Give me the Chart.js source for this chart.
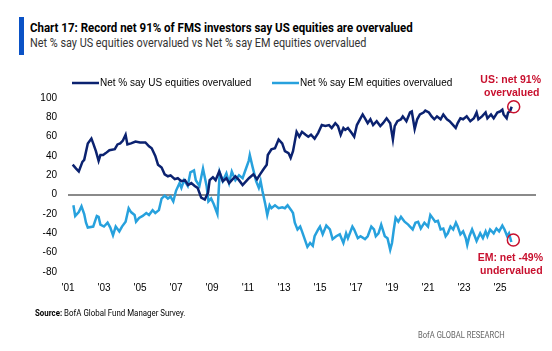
<!DOCTYPE html>
<html>
<head>
<meta charset="utf-8">
<script src="https://cdn.jsdelivr.net/npm/chart.js@4.4.1/dist/chart.umd.min.js"></script>
<style>
  body { margin: 0; background: #fff; width: 552px; height: 351px; overflow: hidden; position: relative;
         font-family: Roboto, 'Liberation Sans', Arial, sans-serif; }
  #bar { position: absolute; left: 19px; top: 17px; width: 5px; height: 38px; background: #0a52c6; }
  .txt { position: absolute; white-space: nowrap; }
  #title { left: 30px; top: 21px; font-size: 13px; line-height: 13px; font-weight: bold; color: #000; transform-origin: 0 0; }
  #subtitle { left: 30px; top: 37px; font-size: 12.5px; line-height: 12.5px; color: #333; transform-origin: 0 0; }
  #source { left: 35px; top: 309px; font-size: 9px; line-height: 9px; color: #000; transform-origin: 0 0; }
  #brand { left: 418px; top: 330px; font-size: 9.3px; line-height: 9.3px; color: #666; transform-origin: 0 0; }
  canvas { position: absolute; left: 0; top: 0; }
</style>
</head>
<body>
<div id="bar"></div>
<div id="title" class="txt">Chart 17: Record net 91% of FMS investors say US equities are overvalued</div>
<div id="subtitle" class="txt">Net % say US equities overvalued vs Net % say EM equities overvalued</div>
<canvas id="chart" width="552" height="351"></canvas>
<div id="source" class="txt"><b>Source:</b> BofA Global Fund Manager Survey.</div>
<div id="brand" class="txt">BofA GLOBAL RESEARCH</div>
<script>
// series names
const seriesNames = ['Net % say US equities overvalued', 'Net % say EM equities overvalued'];

// US: survey date (decimal year) and net % overvalued
const usYears = [2001.26, 2001.45, 2001.6, 2001.8, 2001.9, 2002.1, 2002.3, 2002.4, 2002.55, 2002.7, 2002.8, 2002.95,
  2003.1, 2003.3, 2003.6, 2003.75, 2003.9, 2004.05, 2004.2, 2004.3, 2004.5, 2004.75, 2005.0, 2005.3, 2005.5, 2005.65,
  2005.85, 2006.0, 2006.2, 2006.37, 2006.55, 2006.7, 2006.93, 2007.1, 2007.3, 2007.5, 2007.67, 2007.85, 2008.04, 2008.2,
  2008.4, 2008.6, 2008.78, 2008.87, 2009.05, 2009.2, 2009.4, 2009.6, 2009.8, 2009.95, 2010.1, 2010.3, 2010.5, 2010.7,
  2010.9, 2011.05, 2011.3, 2011.5, 2011.67, 2011.85, 2012.04, 2012.1, 2012.3, 2012.5, 2012.7, 2012.9, 2013.05, 2013.25,
  2013.37, 2013.5, 2013.7, 2013.85, 2014.0, 2014.2, 2014.35, 2014.5, 2014.7, 2014.9, 2015.1, 2015.3, 2015.5, 2015.65,
  2015.85, 2016.0, 2016.15, 2016.3, 2016.4, 2016.55, 2016.75, 2016.9, 2017.05, 2017.25, 2017.37, 2017.5, 2017.65, 2017.8,
  2017.95, 2018.15, 2018.35, 2018.5, 2018.7, 2018.9, 2019.05, 2019.15, 2019.3, 2019.5, 2019.6, 2019.8, 2020.0, 2020.1,
  2020.26, 2020.4, 2020.55, 2020.75, 2020.85, 2021.05, 2021.2, 2021.35, 2021.5, 2021.7, 2021.85, 2022.05, 2022.2, 2022.4,
  2022.54, 2022.65, 2022.8, 2022.95, 2023.15, 2023.35, 2023.55, 2023.7, 2023.8, 2024.0, 2024.2, 2024.3, 2024.5, 2024.65,
  2024.85, 2025.0, 2025.13, 2025.2, 2025.37, 2025.45, 2025.55, 2025.65];
const usValues = [31, 27, 24, 34, 36, 53, 58, 53, 45, 35, 41, 41,
  43, 46, 47, 52, 53, 56, 62, 52, 53, 55, 54, 54, 50, 48,
  40, 31, 28, 21, 19, 20, 16, 17, 14, 15, 10, 12, 9, 7,
  -3, -5, 2, 15, 18, 15, 24, 14, 17, 12, 15, 19, 15, 10,
  14, 17, 21, 16, 21, 26, 31, 41, 47, 48, 57, 53, 45, 43,
  38, 45, 65, 60, 65, 62, 60, 62, 58, 64, 72, 71, 72, 69,
  74, 71, 62, 69, 67, 69, 64, 60, 72, 79, 83, 79, 74, 78,
  72, 76, 71, 74, 79, 74, 57, 71, 76, 78, 81, 76, 85, 86,
  68, 78, 83, 85, 87, 85, 81, 78, 81, 78, 83, 78, 76, 72,
  69, 74, 79, 78, 81, 76, 79, 85, 78, 81, 85, 79, 83, 79,
  85, 86, 88, 83, 79, 85, 86, 91];

// EM: survey date (decimal year) and net % overvalued
const emYears = [2001.3, 2001.4, 2001.6, 2001.75, 2001.9, 2002.0, 2002.1, 2002.4, 2002.6, 2002.7, 2002.8, 2003.0,
  2003.2, 2003.35, 2003.5, 2003.65, 2003.85, 2004.0, 2004.2, 2004.37, 2004.5, 2004.7, 2004.78, 2004.95, 2005.15, 2005.35,
  2005.5, 2005.7, 2005.85, 2006.05, 2006.2, 2006.37, 2006.55, 2006.7, 2006.85, 2007.0, 2007.2, 2007.3, 2007.45, 2007.65,
  2007.8, 2008.0, 2008.1, 2008.3, 2008.5, 2008.7, 2008.8, 2008.95, 2009.1, 2009.3, 2009.43, 2009.6, 2009.8, 2009.95,
  2010.1, 2010.3, 2010.5, 2010.7, 2010.85, 2011.04, 2011.1, 2011.25, 2011.45, 2011.6, 2011.7, 2011.8, 2011.95, 2012.07,
  2012.2, 2012.3, 2012.5, 2012.7, 2012.9, 2013.05, 2013.2, 2013.4, 2013.5, 2013.6, 2013.75, 2013.9, 2014.0, 2014.17,
  2014.3, 2014.45, 2014.6, 2014.7, 2014.9, 2015.0, 2015.15, 2015.35, 2015.55, 2015.7, 2015.9, 2016.1, 2016.3, 2016.45,
  2016.55, 2016.8, 2016.9, 2017.1, 2017.25, 2017.5, 2017.65, 2017.85, 2018.0, 2018.1, 2018.25, 2018.4, 2018.6, 2018.75,
  2018.9, 2019.0, 2019.1, 2019.2, 2019.35, 2019.5, 2019.7, 2019.9, 2020.0, 2020.15, 2020.3, 2020.45, 2020.6, 2020.8,
  2021.0, 2021.13, 2021.25, 2021.4, 2021.55, 2021.7, 2021.85, 2021.98, 2022.1, 2022.25, 2022.4, 2022.55, 2022.65, 2022.8,
  2022.95, 2023.1, 2023.18, 2023.3, 2023.45, 2023.6, 2023.7, 2023.9, 2024.05, 2024.2, 2024.3, 2024.45, 2024.65, 2024.8,
  2024.95, 2025.13, 2025.25, 2025.4, 2025.5, 2025.63];
const emValues = [-11, -22, -18, -12, -20, -29, -34, -33, -22, -23, -31, -33,
  -29, -34, -42, -33, -38, -33, -28, -14, -18, -21, -28, -24, -22, -19,
  -21, -16, -19, -16, -4, -1, -4, -2, -7, 4, 12, 7, 15, 9,
  23, 25, 15, 9, 27, 9, -7, -4, -10, -20, 23, 14, 22, 12,
  24, 15, 20, 17, 25, 35, 41, 29, 14, 7, 14, 4, -9, -21,
  -11, -14, -11, -14, -13, -14, -11, -16, -19, -29, -36, -33, -38, -47,
  -54, -50, -53, -43, -36, -33, -41, -32, -36, -46, -43, -41, -50, -40,
  -45, -33, -36, -45, -43, -46, -43, -33, -36, -43, -40, -31, -43, -45,
  -57, -50, -36, -24, -28, -23, -28, -31, -33, -36, -29, -28, -35, -29,
  -33, -21, -24, -28, -27, -36, -35, -43, -40, -33, -36, -29, -33, -41,
  -38, -45, -52, -43, -36, -43, -48, -40, -45, -38, -43, -36, -40, -35,
  -38, -32, -36, -43, -40, -49];

const xTicks = [2001, 2003, 2005, 2007, 2009, 2011, 2013, 2015, 2017, 2019, 2021, 2023, 2025];
const yTicks = [-80, -60, -40, -20, 0, 20, 40, 60, 80, 100];

const usNote = ['US: net 91%', 'overvalued'];
const emNote = ['EM: net -49%', 'undervalued'];

const navy = '#0b2270';
const sky = '#27a1dd';
const red = '#c8102e';
const chartFont = "'Liberation Sans', Arial, sans-serif";

// squeeze the html text lines to the widths they have in the original
function fitWidth(id, w) {
  const el = document.getElementById(id);
  el.style.transform = 'scaleX(' + (w / el.offsetWidth) + ')';
}
fitWidth('title', 383);
fitWidth('subtitle', 336);
fitWidth('source', 150);
fitWidth('brand', 87);

Chart.defaults.font.family = chartFont;
Chart.defaults.font.size = 10;
Chart.defaults.color = '#000';

// legend + end-point notes drawn on canvas
const extras = {
  id: 'extras',
  afterDatasetsDraw(chart) {
    const ctx = chart.ctx;
    ctx.save();
    // legend
    const items = [[72, navy, seriesNames[0]], [272, sky, seriesNames[1]]];
    ctx.font = '10px ' + chartFont;
    ctx.textBaseline = 'middle';
    items.forEach(function (it) {
      ctx.strokeStyle = it[1];
      ctx.lineWidth = 2.5;
      ctx.beginPath();
      ctx.moveTo(it[0], 83);
      ctx.lineTo(it[0] + 27, 83);
      ctx.stroke();
      ctx.fillStyle = '#000';
      ctx.textAlign = 'left';
      ctx.fillText(it[2], it[0] + 28, 83);
    });

    // circles and notes at the last points
    const notes = [[usNote, -27], [emNote, 16]];
    ctx.font = 'bold 10.5px ' + chartFont;
    ctx.textAlign = 'center';
    notes.forEach(function (n, i) {
      const pts = chart.getDatasetMeta(i).data;
      const p = pts[pts.length - 1];
      ctx.strokeStyle = red;
      ctx.lineWidth = 1.5;
      ctx.beginPath();
      ctx.arc(p.x + 2, p.y + (i === 0 ? 0 : -2), 6, 0, Math.PI * 2);
      ctx.stroke();
      ctx.fillStyle = red;
      ctx.fillText(n[0][0], p.x - 1, p.y + n[1]);
      ctx.fillText(n[0][1], p.x, p.y + n[1] + 13);
    });
    ctx.restore();
  }
};

const chart = new Chart(document.getElementById('chart'), {
  type: 'line',
  data: {
    datasets: [
      {
        label: seriesNames[0],
        data: usYears.map((x, i) => ({ x: x, y: usValues[i] })),
        borderColor: navy,
        backgroundColor: navy,
        borderWidth: 2.5,
        pointRadius: 0,
        tension: 0
      },
      {
        label: seriesNames[1],
        data: emYears.map((x, i) => ({ x: x, y: emValues[i] })),
        borderColor: sky,
        backgroundColor: sky,
        borderWidth: 2.5,
        pointRadius: 0,
        tension: 0
      }
    ]
  },
  options: {
    responsive: false,
    animation: false,
    layout: { padding: { top: 98, right: 16, bottom: 39, left: 0 } },
    plugins: { legend: { display: false }, tooltip: { enabled: false } },
    scales: {
      x: {
        type: 'linear',
        min: 2001,
        max: 2027,
        afterBuildTicks: s => { s.ticks = xTicks.map(v => ({ value: v })); },
        afterFit: s => { s.height = 40; },
        ticks: { padding: 10, maxRotation: 0, autoSkip: false, callback: v => "'" + String(v).slice(2) },
        grid: { display: false, drawTicks: false },
        border: { display: false }
      },
      y: {
        min: -80,
        max: 100,
        afterBuildTicks: s => { s.ticks = yTicks.map(v => ({ value: v })); },
        afterFit: s => { s.width = 68; },
        ticks: { padding: 11 },
        grid: {
          drawTicks: false,
          lineWidth: 2,
          color: c => (c.tick && c.tick.value === 0 ? '#8a8a8a' : 'rgba(0,0,0,0)')
        },
        border: { display: false }
      }
    }
  },
  plugins: [extras]
});
</script>
</body>
</html>
